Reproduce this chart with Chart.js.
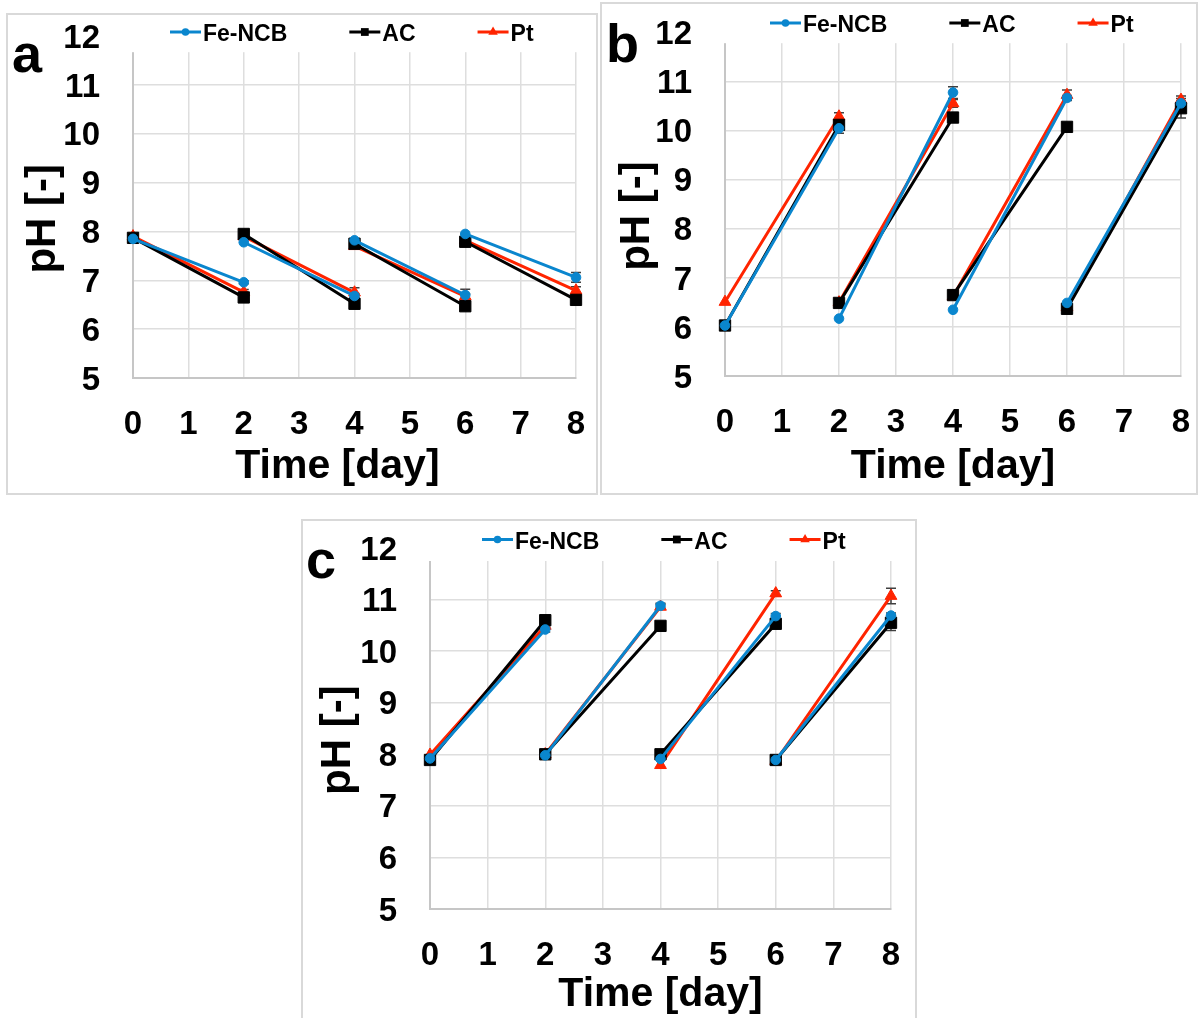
<!DOCTYPE html>
<html lang="en">
<head>
<meta charset="UTF-8">
<title>pH over time – Fe-NCB / AC / Pt</title>
<script src="https://cdn.jsdelivr.net/npm/chart.js"></script>
<style>
  html, body { margin: 0; padding: 0; background: #fff; overflow: hidden; }
  body { width: 1199px; height: 1018px; position: relative; }
  .panel {
    position: absolute;
    border: 2px solid #d9d9d9;
    box-sizing: border-box;
    background: #fff;
    overflow: hidden;
  }
  .panel canvas { position: absolute; left: 0; top: 0; }
</style>
</head>
<body>
  <div class="panel" style="left:6px;top:13px;width:592px;height:482px;"><canvas id="chartA" width="588" height="478"></canvas></div>
  <div class="panel" style="left:600px;top:2px;width:598px;height:493px;"><canvas id="chartB" width="594" height="489"></canvas></div>
  <div class="panel" style="left:301px;top:519px;width:616px;height:510px;"><canvas id="chartC" width="612" height="506"></canvas></div>

<script>
// ---- data ----
const days = [0, 2, 4, 6, 8];
const seriesNames = ['Fe-NCB', 'AC', 'Pt'];

// panel a
const aFeStart = [7.85, 7.78, 7.82, 7.95];
const aFeEnd   = [6.96, 6.68, 6.70, 7.06];
const aFeErr   = [0.03, 0.05, 0.12, 0.10];
const aAcStart = [7.87, 7.95, 7.75, 7.79];
const aAcEnd   = [6.65, 6.52, 6.47, 6.60];
const aAcErr   = [0.05, 0.10, 0.05, 0.05];
const aPtStart = [7.90, 7.90, 7.70, 7.82];
const aPtEnd   = [6.76, 6.75, 6.67, 6.79];
const aPtErr   = [0.05, 0.10, 0.05, 0.08];

// panel b
const bFeStart = [6.03, 6.17, 6.35, 6.49];
const bFeEnd   = [10.05, 10.78, 10.67, 10.56];
const bFeErr   = [0.10, 0.12, 0.05, 0.05];
const bAcStart = [6.03, 6.49, 6.65, 6.37];
const bAcEnd   = [10.12, 10.27, 10.08, 10.46];
const bAcErr   = [0.05, 0.05, 0.05, 0.20];
const bPtStart = [6.51, 6.50, 6.62, 6.40];
const bPtEnd   = [10.29, 10.56, 10.73, 10.63];
const bPtErr   = [0.08, 0.08, 0.10, 0.08];

// panel c
const cFeStart = [7.92, 7.98, 7.91, 7.89];
const cFeEnd   = [10.42, 10.88, 10.68, 10.69];
const cFeErr   = [0.05, 0.05, 0.05, 0.05];
const cAcStart = [7.89, 8.00, 8.00, 7.89];
const cAcEnd   = [10.60, 10.49, 10.53, 10.55];
const cAcErr   = [0.05, 0.05, 0.05, 0.15];
const cPtStart = [7.99, 8.00, 7.79, 7.87];
const cPtEnd   = [10.49, 10.86, 11.12, 11.07];
const cPtErr   = [0.05, 0.05, 0.05, 0.15];

// ---- styles ----
const FONT = "'Liberation Sans', Arial, Helvetica, sans-serif";
const seriesStyle = [
  { color: '#0a86ce', pointStyle: 'circle',   radius: 4.8, legendRadius: 3.8 },
  { color: '#000000', pointStyle: 'rect',     radius: 8,   legendRadius: 5.5 },
  { color: '#ff2400', pointStyle: 'triangle', radius: 6.8, legendRadius: 5.5 }
];

// one cycle = start value at day d, end value at day d+2; a null breaks the line
function cycles(start, end) {
  const pts = [];
  for (let i = 0; i < start.length; i++) {
    pts.push({ x: days[i], y: start[i] });
    pts.push({ x: days[i + 1], y: end[i] });
    pts.push({ x: days[i + 1], y: null });
  }
  return pts;
}

function drawMarker(ctx, style, r, x, y) {
  ctx.beginPath();
  if (style === 'circle') {
    ctx.arc(x, y, r, 0, Math.PI * 2);
  } else if (style === 'rect') {
    const s = r * Math.SQRT1_2;
    ctx.rect(x - s, y - s, 2 * s, 2 * s);
  } else {
    for (let k = 0; k < 3; k++) {
      const a = k * 2 * Math.PI / 3;
      const px = x + Math.sin(a) * r, py = y - Math.cos(a) * r;
      k ? ctx.lineTo(px, py) : ctx.moveTo(px, py);
    }
    ctx.closePath();
  }
  ctx.fill();
}

// white legend strip across the top of the plot, like the Excel legend box
const topLegend = {
  id: 'topLegend',
  beforeDatasetsDraw(chart, args, opts) {
    const { ctx, chartArea } = chart;
    ctx.save();
    ctx.fillStyle = '#fff';
    ctx.fillRect(chartArea.left - 2, chartArea.top - 2, chartArea.right - chartArea.left + 4, opts.cover + 2);
    ctx.font = 'bold 23px ' + FONT;
    ctx.textBaseline = 'middle';
    let x = opts.x;
    chart.data.datasets.forEach((ds, i) => {
      const st = seriesStyle[i];
      ctx.strokeStyle = st.color;
      ctx.fillStyle = st.color;
      ctx.lineWidth = 3;
      ctx.beginPath();
      ctx.moveTo(x, opts.y - 2);
      ctx.lineTo(x + 31, opts.y - 2);
      ctx.stroke();
      drawMarker(ctx, st.pointStyle, st.legendRadius, x + 15.5, opts.y - 2);
      ctx.fillStyle = '#000';
      ctx.fillText(ds.label, x + 33, opts.y + 1);
      x += 33 + ctx.measureText(ds.label).width + 62;
    });
    ctx.restore();
  }
};

// error bars on the end-of-cycle points
const errorBars = {
  id: 'errorBars',
  beforeDatasetsDraw(chart) {
    const { ctx, scales } = chart;
    ctx.save();
    ctx.strokeStyle = '#404040';
    ctx.lineWidth = 1.5;
    chart.data.datasets.forEach(ds => {
      ds.err.forEach((e, i) => {
        const v = ds.ends[i];
        const px = scales.x.getPixelForValue(days[i + 1]);
        const y1 = scales.y.getPixelForValue(v + e);
        const y2 = scales.y.getPixelForValue(v - e);
        ctx.beginPath();
        ctx.moveTo(px, y1); ctx.lineTo(px, y2);
        ctx.moveTo(px - 5, y1); ctx.lineTo(px + 5, y1);
        ctx.moveTo(px - 5, y2); ctx.lineTo(px + 5, y2);
        ctx.stroke();
      });
    });
    ctx.restore();
  }
};

const panelLetter = {
  id: 'panelLetter',
  afterDraw(chart, args, opts) {
    const ctx = chart.ctx;
    ctx.save();
    ctx.font = 'bold 54px ' + FONT;
    ctx.fillStyle = '#000';
    ctx.textBaseline = 'alphabetic';
    ctx.fillText(opts.text, opts.x, opts.y);
    ctx.restore();
  }
};

// fixed axis box size, and no extra label overflow padding pushed into the layout
function fixBox(prop, size) {
  return s => {
    s[prop] = size;
    s.paddingTop = 0; s.paddingBottom = 0; s.paddingLeft = 0; s.paddingRight = 0;
  };
}

function makePanel(id, letter, fe, ac, pt, L) {
  const series = [fe, ac, pt];
  const datasets = series.map((s, i) => ({
    label: seriesNames[i],
    data: cycles(s[0], s[1]),
    ends: s[1],
    err: s[2],
    borderColor: seriesStyle[i].color,
    backgroundColor: seriesStyle[i].color,
    borderWidth: 3,
    pointStyle: seriesStyle[i].pointStyle,
    pointRadius: seriesStyle[i].radius,
    pointBorderWidth: 1,
    spanGaps: false,
    clip: false
  }));

  new Chart(document.getElementById(id), {
    type: 'line',
    data: { datasets },
    options: {
      responsive: false,
      animation: false,
      layout: { padding: { left: 0, top: L.top, right: L.right, bottom: 0 } },
      plugins: {
        legend: { display: false },
        tooltip: { enabled: false },
        topLegend: { x: L.legX, y: L.legY, cover: L.cover },
        panelLetter: { text: letter, x: L.letX, y: L.letY }
      },
      scales: {
        x: {
          type: 'linear', min: 0, max: 8,
          afterFit: fixBox('height', L.xAxisH),
          grid: { color: '#dedede', lineWidth: 1.5, drawTicks: false },
          border: { color: '#c6c6c6', width: 2 },
          ticks: {
            stepSize: 1, padding: 30, color: '#000', maxRotation: 0, autoSkip: false,
            font: { family: FONT, size: 33, weight: 'bold', lineHeight: 1 }
          },
          title: {
            display: true, text: L.xTitle, color: '#000',
            font: { family: FONT, size: 41, weight: 'bold', lineHeight: 1 },
            padding: { top: 0, bottom: L.xTitlePad }
          }
        },
        y: {
          min: 5, max: 12,
          afterFit: fixBox('width', L.yAxisW),
          grid: { color: '#dedede', lineWidth: 1.5, drawTicks: false },
          border: { color: '#c6c6c6', width: 2 },
          ticks: {
            stepSize: 1, padding: 33, labelOffset: 2.5, color: '#000',
            font: { family: FONT, size: 33, weight: 'bold', lineHeight: 1 }
          },
          title: {
            display: true, text: 'pH [-]  ', color: '#000',
            font: { family: FONT, size: 42, weight: 'bold', lineHeight: 1 },
            padding: { top: L.yTitlePad, bottom: 0 }
          }
        }
      }
    },
    plugins: [topLegend, errorBars, panelLetter]
  });
}

makePanel('chartA', 'a', [aFeStart, aFeEnd, aFeErr], [aAcStart, aAcEnd, aAcErr], [aPtStart, aPtEnd, aPtErr],
  { top: 21.2, right: 20, yAxisW: 125, xAxisH: 115, xTitlePad: 5.5, yTitlePad: 14, xTitle: 'Time [day]   ',
    legX: 162, legY: 19, cover: 16, letX: 4, letY: 57 });

makePanel('chartB', 'b', [bFeStart, bFeEnd, bFeErr], [bAcStart, bAcEnd, bAcErr], [bPtStart, bPtEnd, bPtErr],
  { top: 28.7, right: 15, yAxisW: 123, xAxisH: 117, xTitlePad: 5.5, yTitlePad: 14.5, xTitle: 'Time [day]',
    legX: 168, legY: 21, cover: 10.5, letX: 4, letY: 58 });

makePanel('chartC', 'c', [cFeStart, cFeEnd, cFeErr], [cAcStart, cAcEnd, cAcErr], [cPtStart, cPtEnd, cPtErr],
  { top: 27, right: 24, yAxisW: 127, xAxisH: 118, xTitlePad: 11.5, yTitlePad: 14.5, xTitle: 'Time [day]',
    legX: 179, legY: 20.5, cover: 13, letX: 3, letY: 57 });
</script>
</body>
</html>
